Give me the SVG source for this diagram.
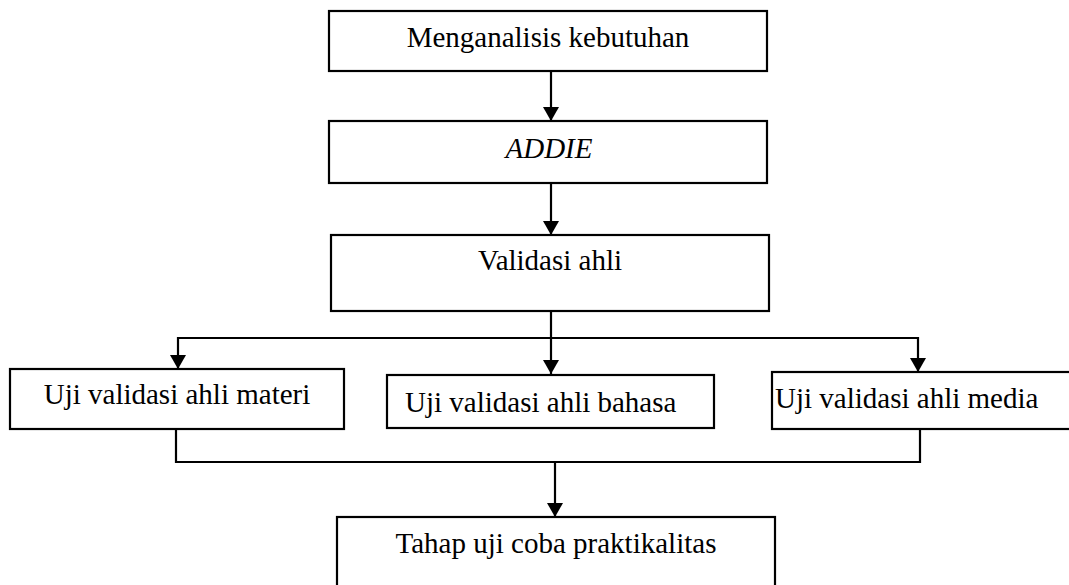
<svg xmlns="http://www.w3.org/2000/svg" width="1069" height="585" viewBox="0 0 1069 585">
<defs>
<style>
.box{fill:#fff;stroke:#000;stroke-width:2.2}
.t{font-family:"Liberation Serif","Times New Roman",serif;font-size:29px;fill:#000}
.c{stroke:#000;stroke-width:2.2;fill:none}
</style>
<marker id="ah" markerUnits="userSpaceOnUse" markerWidth="16" markerHeight="16" refX="14" refY="8" orient="auto">
<path d="M0,0 L14,8 L0,16 z" fill="#000"/>
</marker>
</defs>
<rect width="1069" height="585" fill="#fff"/>
<g id="connectors">
<line class="c" x1="551" y1="71" x2="551" y2="121" marker-end="url(#ah)"/>
<line class="c" x1="551" y1="183" x2="551" y2="235" marker-end="url(#ah)"/>
<line class="c" x1="551" y1="311" x2="551" y2="374" marker-end="url(#ah)"/>
<polyline class="c" points="177,338 918,338 918,372" marker-end="url(#ah)"/>
<line class="c" x1="178" y1="337" x2="178" y2="369" marker-end="url(#ah)"/>
<polyline class="c" points="176,429 176,462 920,462 920,429"/>
<line class="c" x1="555" y1="462" x2="555" y2="517" marker-end="url(#ah)"/>
</g>
<g id="n1"><rect class="box" x="329" y="11" width="438" height="60"/><text class="t" x="548" y="47" text-anchor="middle">Menganalisis kebutuhan</text></g>
<g id="n2"><rect class="box" x="329" y="121" width="438" height="62"/><text class="t" x="549" y="158" text-anchor="middle" font-style="italic">ADDIE</text></g>
<g id="n3"><rect class="box" x="331" y="235" width="438" height="76"/><text class="t" x="550" y="270" text-anchor="middle">Validasi ahli</text></g>
<g id="n4"><rect class="box" x="10" y="369" width="334" height="60"/><text class="t" x="177" y="404" text-anchor="middle">Uji validasi ahli materi</text></g>
<g id="n5"><rect class="box" x="387" y="375" width="327" height="53"/><text class="t" x="405" y="412">Uji validasi ahli bahasa</text></g>
<g id="n6"><rect class="box" x="772" y="372" width="310" height="57"/><text class="t" x="775" y="408">Uji validasi ahli media</text></g>
<g id="n7"><rect class="box" x="337" y="517" width="438" height="80"/><text class="t" x="556" y="553" text-anchor="middle">Tahap uji coba praktikalitas</text></g>
</svg>
